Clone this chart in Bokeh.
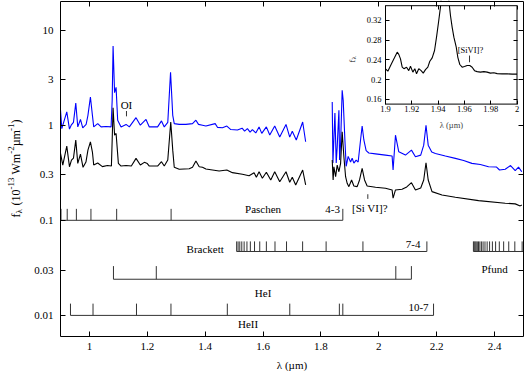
import math
from bokeh.plotting import figure
from bokeh.models import (Range1d, LinearScale, LinearAxis, LogAxis, FixedTicker,
                          CustomJSTickFormatter, Label)
from bokeh.embed import file_html
from bokeh.resources import INLINE

# ---------------- data ----------------
x_ticks = [1.0, 1.2, 1.4, 1.6, 1.8, 2.0, 2.2, 2.4]
y_ticks = [0.01, 0.03, 0.1, 0.3, 1, 3, 10]
X_LIM = (0.9, 2.5)
Y_LIM = (0.006, 20)

# blue spectrum, J/H part
blue_j_lam = [0.900, 0.9045, 0.9217, 0.931, 0.9369, 0.9448, 0.9528, 0.9597, 0.969, 0.9769,
              0.9886, 0.9948, 1.0034, 1.0103, 1.0148, 1.0286, 1.0403, 1.0576, 1.0748, 1.0786,
              1.0817, 1.0869, 1.0921, 1.0976, 1.1093, 1.1266, 1.1379, 1.161, 1.1759, 1.1955,
              1.2069, 1.2355, 1.249, 1.2586, 1.2707, 1.2803, 1.2879, 1.2931, 1.3103, 1.3334,
              1.3562, 1.3679, 1.3769, 1.3907, 1.4024, 1.4345, 1.4424, 1.4597, 1.4748, 1.4886,
              1.5114, 1.5276, 1.5362, 1.5459, 1.5552, 1.5631, 1.5748, 1.5862, 1.5955, 1.6114,
              1.6231, 1.6403, 1.6576, 1.6793, 1.6921, 1.701, 1.7148, 1.7369, 1.7472]
blue_j_f = [1.44, 0.92, 1.38, 0.91, 1.00, 1.07, 1.71, 0.96, 1.15, 0.94,
            1.02, 1.27, 1.98, 1.27, 0.96, 1.04, 0.96, 0.97, 0.96, 1.83,
            6.8, 2.2, 2.5, 1.13, 0.96, 1.02, 0.96, 1.20, 1.00, 1.15,
            0.96, 0.96, 1.11, 0.96, 1.07, 3.6, 1.27, 1.04, 1.02, 1.02,
            1.04, 1.13, 1.02, 1.00, 0.98, 1.04, 0.95, 0.94, 0.98, 0.90,
            0.89, 0.93, 0.865, 0.92, 0.845, 0.90, 0.83, 0.96, 0.82, 0.96,
            0.79, 0.98, 0.75, 1.02, 0.75, 0.865, 0.70, 1.08, 0.67]

# blue spectrum, K part
blue_k_lam = [1.839, 1.8414, 1.8483, 1.8528, 1.8562, 1.8621, 1.8645, 1.8679, 1.8734, 1.8769,
              1.8828, 1.8872, 1.8941, 1.9024, 1.9079, 1.9138, 1.9217, 1.9286, 1.9369, 1.9424,
              1.9483, 1.9562, 1.9655, 1.9886, 2.0231, 2.0459, 2.0493, 2.0576, 2.069, 2.0921,
              2.1128, 2.1266, 2.1448, 2.1552, 2.1631, 2.1707, 2.1828, 2.1955, 2.23, 2.2645,
              2.2931, 2.3217, 2.3507, 2.3793, 2.4069, 2.4172, 2.4369, 2.4552, 2.4714, 2.4828,
              2.4941]
blue_k_f = [1.75, 0.40, 1.34, 0.40, 0.59, 1.44, 0.43, 0.64, 2.33, 1.83,
            0.70, 0.37, 0.47, 0.41, 0.45, 0.40, 0.43, 0.41, 0.70, 0.98,
            0.70, 0.54, 0.51, 0.50, 0.485, 0.474, 0.338, 0.786, 0.525, 0.485,
            0.547, 0.466, 0.485, 0.617, 1.0, 0.617, 0.522, 0.505, 0.474, 0.448,
            0.425, 0.397, 0.386, 0.366, 0.363, 0.338, 0.344, 0.377, 0.334, 0.363,
            0.324]

# black spectrum, J/H part
black_j_lam = [0.900, 0.9079, 0.9217, 0.931, 0.9379, 0.9448, 0.9528, 0.9597, 0.969, 0.9779,
               0.9879, 0.9948, 1.0034, 1.0103, 1.0148, 1.0286, 1.0448, 1.0621, 1.0759, 1.0786,
               1.0817, 1.0869, 1.0921, 1.100, 1.1093, 1.1266, 1.1448, 1.161, 1.1759, 1.1897,
               1.200, 1.2069, 1.2355, 1.249, 1.2586, 1.2707, 1.281, 1.2879, 1.2931, 1.3103,
               1.3448, 1.3562, 1.3679, 1.3793, 1.3907, 1.4024, 1.4252, 1.4483, 1.4748, 1.4941,
               1.5286, 1.5517, 1.569, 1.5769, 1.5862, 1.5976, 1.6114, 1.6266, 1.6403, 1.6576,
               1.6793, 1.6921, 1.701, 1.7128, 1.7369, 1.7472]
black_j_f = [0.505, 0.381, 0.603, 0.366, 0.430, 0.451, 0.697, 0.397, 0.497, 0.361,
             0.41, 0.547, 0.669, 0.522, 0.381, 0.40, 0.367, 0.377, 0.372, 0.697,
             1.53, 0.786, 0.819, 0.397, 0.372, 0.377, 0.372, 0.448, 0.381, 0.407,
             0.395, 0.372, 0.372, 0.413, 0.372, 0.430, 1.083, 0.547, 0.361, 0.344,
             0.349, 0.361, 0.42, 0.366, 0.361, 0.346, 0.338, 0.330, 0.338, 0.317,
             0.305, 0.2946, 0.317, 0.2834, 0.324, 0.2767, 0.320, 0.2655, 0.324, 0.2548,
             0.324, 0.2512, 0.2834, 0.2353, 0.338, 0.2353]

# black spectrum, K part
black_k_lam = [1.839, 1.8421, 1.8448, 1.8507, 1.8562, 1.8621, 1.8679, 1.8734, 1.8793, 1.8852,
               1.8907, 1.8966, 1.9059, 1.9138, 1.9252, 1.9334, 1.9424, 1.9507, 1.9597, 1.9886,
               2.0231, 2.0459, 2.0493, 2.0576, 2.0803, 2.0966, 2.1128, 2.1266, 2.1448, 2.1552,
               2.1631, 2.1707, 2.1838, 2.2183, 2.2645, 2.3448, 2.4369, 2.4714, 2.4886, 2.4941]
black_k_f = [0.430, 0.2655, 0.366, 0.2875, 0.381, 0.324, 0.397, 0.851, 0.466, 0.2875,
             0.2452, 0.2259, 0.2655, 0.2298, 0.2259, 0.2655, 0.352, 0.2655, 0.2298, 0.2227,
             0.2174, 0.2087, 0.1708, 0.2087, 0.2122, 0.2243, 0.2488, 0.2087, 0.219, 0.2655,
             0.403, 0.2655, 0.2002, 0.1849, 0.175, 0.1612, 0.1514, 0.1489, 0.1418, 0.145]

# inset spectrum (1.9 - 2.0 micron, linear flux)
inset_lam = [1.900, 1.9018, 1.9038, 1.9051, 1.9068, 1.9089, 1.9101, 1.9114, 1.9127, 1.914,
             1.916, 1.9177, 1.919, 1.9208, 1.9223, 1.9236, 1.9253, 1.9271, 1.9287, 1.9304,
             1.9322, 1.9337, 1.9355, 1.9373, 1.9388, 1.9405, 1.9418, 1.944, 1.946, 1.9482,
             1.9494, 1.9507, 1.952, 1.9538, 1.955, 1.9565, 1.9583, 1.9601, 1.9621, 1.9641,
             1.9659, 1.9677, 1.9697, 1.9722, 1.9748, 1.9773, 1.9798, 1.9824, 1.9849, 1.9887,
             1.9925, 1.9963, 2.000]
inset_f = [0.2217, 0.217, 0.228, 0.235, 0.244, 0.2555, 0.251, 0.242, 0.225, 0.222,
           0.225, 0.218, 0.227, 0.215, 0.222, 0.2115, 0.222, 0.218, 0.213, 0.220,
           0.225, 0.237, 0.244, 0.259, 0.286, 0.320, 0.347, 0.42, 0.44, 0.36,
           0.330, 0.306, 0.286, 0.2656, 0.245, 0.2305, 0.225, 0.2264, 0.2284, 0.2284,
           0.225, 0.218, 0.216, 0.215, 0.216, 0.215, 0.213, 0.2136, 0.212, 0.2115,
           0.2115, 0.211, 0.211]
INSET_X = (1.9, 2.0)
INSET_Y = (0.15, 0.35)
inset_x_ticks = [1.9, 1.92, 1.94, 1.96, 1.98, 2.0]
inset_y_ticks = [0.16, 0.20, 0.24, 0.28, 0.32]

# line identification markers (wavelengths, micron)
paschen = [0.9017, 0.9232, 0.9549, 1.0052, 1.0941, 1.2822, 1.8756]
brackett = [2.1661, 1.9451, 1.8179, 1.7367, 1.6811, 1.6412, 1.6114, 1.5885, 1.5705,
            1.5561, 1.5443, 1.5346, 1.5265, 1.5196, 1.5137, 1.5087]
pfund = [2.4953, 2.4700, 2.4490, 2.4314, 2.4164, 2.4036, 2.3925, 2.3828, 2.3744,
         2.3669, 2.3603, 2.3545, 2.3492, 2.3445, 2.3403, 2.3364, 2.3330, 2.3298, 2.3269]
hei = [1.0830, 1.2310, 2.0587, 2.1126]
heii = [0.9345, 1.0124, 1.1626, 1.2817, 1.4765, 1.6923, 1.8637, 1.8756, 2.1891]
# marker levels (base, tick top) in flux units
paschen_lvl = (0.100, 0.132)
brackett_lvl = (0.047, 0.060)
hei_lvl = (0.024, 0.033)
heii_lvl = (0.0100, 0.0133)

# ---------------- layout (pixels) ----------------
W, H = 525, 371
BOX = dict(left=60, right=523, top=1, bottom=336)          # main plot box
IBOX = dict(left=385, right=516.5, top=5.2, bottom=103.6)  # inset box
FONT = "Liberation Serif"
FS = "11px"
IFS = "8.5px"


def fit_range(lo, hi, p0, p1, total, log=False):
    """data range of the full canvas so that lo..hi spans pixels p0..p1 (fractions)."""
    f0, f1 = p0 / total, p1 / total
    if log:
        lo, hi = math.log10(lo), math.log10(hi)
    span = (hi - lo) / (f1 - f0)
    start = lo - f0 * span
    if log:
        return Range1d(10 ** start, 10 ** (start + span))
    return Range1d(start, start + span)


p = figure(width=W, height=H,
           x_range=fit_range(*X_LIM, BOX["left"], BOX["right"], W),
           y_range=fit_range(*Y_LIM, H - BOX["bottom"], H - BOX["top"], H, log=True),
           y_axis_type="log", x_axis_location=None, y_axis_location=None,
           output_backend="svg", toolbar_location=None,
           min_border_left=0, min_border_right=0, min_border_top=0, min_border_bottom=0)
p.grid.visible = False
p.outline_line_color = None
p.background_fill_color = "white"
p.border_fill_color = "white"

p.extra_x_ranges = {"ix": fit_range(*INSET_X, IBOX["left"], IBOX["right"], W)}
p.extra_y_ranges = {"iy": fit_range(*INSET_Y, H - IBOX["bottom"], H - IBOX["top"], H)}
p.extra_y_scales = {"iy": LinearScale()}
IR = dict(x_range_name="ix", y_range_name="iy")

num_fmt = CustomJSTickFormatter(code="return String(Math.round(tick*100)/100)")
blank_fmt = CustomJSTickFormatter(code="return ''")


def axis(cls, side, loc, bounds, ticks, labels=True, font_size=FS, tick_len=5, standoff=6, **kw):
    ax = cls(fixed_location=loc, bounds=bounds, **kw)
    ax.ticker = FixedTicker(ticks=ticks)
    ax.major_tick_in = tick_len
    ax.major_tick_out = 0
    ax.minor_tick_line_color = None
    ax.axis_line_color = None
    ax.major_tick_line_color = "black"
    ax.major_tick_line_width = 1
    if labels:
        ax.formatter = num_fmt
        ax.major_label_text_font = FONT
        ax.major_label_text_font_size = font_size
        ax.major_label_text_color = "black"
        ax.major_label_standoff = standoff
    else:
        ax.formatter = blank_fmt
        ax.major_label_text_font_size = "0px"
        ax.major_label_standoff = 0
    p.add_layout(ax, side)
    return ax


# main axes (ticks inside, mirrored)
axis(LinearAxis, "below", Y_LIM[0], X_LIM, x_ticks, standoff=6)
axis(LinearAxis, "above", Y_LIM[1], X_LIM, x_ticks, labels=False)
axis(LogAxis, "left", X_LIM[0], Y_LIM, y_ticks, standoff=7)
axis(LogAxis, "right", X_LIM[1], Y_LIM, y_ticks, labels=False)

# spectra
p.line(blue_j_lam, blue_j_f, line_color="#0000ff", line_width=1.1)
p.line(blue_k_lam, blue_k_f, line_color="#0000ff", line_width=1.1)
p.line(black_j_lam, black_j_f, line_color="black", line_width=1.1)
p.line(black_k_lam, black_k_f, line_color="black", line_width=1.1)

# line identification markers
MC = "#333333"


def series(lams, lvl, extend_to=None):
    base, top = lvl
    p.segment(x0=lams, y0=[base] * len(lams), x1=lams, y1=[top] * len(lams),
              line_color=MC, line_width=1)
    x0 = min(lams) if extend_to != "left" else X_LIM[0]
    x1 = max(lams) if extend_to != "right" else X_LIM[1]
    p.segment(x0=[x0], y0=[base], x1=[x1], y1=[base], line_color=MC, line_width=1)


series(paschen, paschen_lvl, extend_to="left")
series(brackett, brackett_lvl)
series(pfund, brackett_lvl, extend_to="right")
series(hei, hei_lvl)
series(heii, heii_lvl)

# small identification ticks
p.segment(x0=[1.128], y0=[1.24], x1=[1.128], y1=[1.41], line_color=MC, line_width=1)
p.segment(x0=[1.962], y0=[0.168], x1=[1.962], y1=[0.188], line_color=MC, line_width=1)


def lab(x, y, text, align="center", size=FS, **kw):
    p.add_layout(Label(x=x, y=y, text=text, text_font=FONT, text_font_size=size,
                       text_align=align, text_baseline="middle", text_color="black", **kw))


lab(1.60, 0.131, "Paschen")
lab(1.866, 0.131, "4-3", align="right")
lab(1.40, 0.0503, "Brackett")
lab(2.144, 0.0554, "7-4", align="right")
lab(2.40, 0.031, "Pfund")
lab(1.60, 0.0173, "HeI")
lab(1.548, 0.0081, "HeII")
lab(2.172, 0.0122, "10-7", align="right")
lab(1.128, 1.62, "OI")
lab(1.969, 0.135, "[Si VI]?")


# rotated labels built from pieces (screen px: x from left, y from bottom)
def vpieces(pieces, x0, y0):
    yy = y0
    for text, size, dx, adv in pieces:
        p.add_layout(Label(x=x0 + dx, y=yy, x_units="screen", y_units="screen", text=text,
                           angle=math.pi / 2, text_font=FONT, text_font_size=f"{size}px",
                           text_align="left", text_baseline="alphabetic", text_color="black"))
        yy += adv


# main axis titles
vpieces([("f", 12, 0, 4.0), ("λ", 9, 3, 8.0), ("(10", 12, 0, 16.0), ("-13", 9, -5, 15.0),
         ("Wm", 12, 0, 20.7), ("-2", 9, -5, 7.5), ("µm", 12, 0, 15.3), ("-1", 9, -5, 7.5),
         (")", 12, 0, 4.0)], 15, H - 217)
p.add_layout(Label(x=(BOX["left"] + BOX["right"]) / 2, y=H - 364, x_units="screen", y_units="screen",
                   text="λ (µm)", text_font=FONT, text_font_size=FS, text_align="center",
                   text_baseline="middle", text_color="black"))

# ---------------- inset ----------------
p.quad(left=[INSET_X[0]], right=[INSET_X[1]], bottom=[INSET_Y[0]], top=[INSET_Y[1]],
       fill_color="white", line_color=None, **IR)
p.line(inset_lam, inset_f, line_color="black", line_width=1.1, **IR)
p.quad(left=[INSET_X[0]], right=[INSET_X[1]], bottom=[INSET_Y[1]], top=[INSET_Y[1] + 0.2],
       fill_color="white", line_color=None, **IR)
p.quad(left=[INSET_X[0]], right=[INSET_X[1]], bottom=[INSET_Y[0]], top=[INSET_Y[1]],
       fill_color=None, line_color="black", line_width=1, **IR)
p.segment(x0=[1.9639], y0=[0.235], x1=[1.9639], y1=[0.2487], line_color=MC, line_width=1, **IR)
lab(1.9646, 0.259, "[SiVI]?", size=IFS, **IR)

ib = axis(LinearAxis, "below", INSET_Y[0], INSET_X, inset_x_ticks, font_size=IFS, tick_len=4,
          standoff=2, **IR)
ib.axis_label = "λ (µm)"
ib.axis_label_text_font = FONT
ib.axis_label_text_font_size = IFS
ib.axis_label_text_font_style = "normal"
ib.axis_label_standoff = 4
axis(LinearAxis, "above", INSET_Y[1], INSET_X, inset_x_ticks, labels=False, tick_len=4, **IR)
axis(LinearAxis, "left", INSET_X[0], INSET_Y, inset_y_ticks, font_size=IFS, tick_len=4,
     standoff=4, **IR)
axis(LinearAxis, "right", INSET_X[1], INSET_Y, inset_y_ticks, labels=False, tick_len=4, **IR)

vpieces([("f", 8.5, 0, 3.0), ("λ", 6.5, 2, 4.0)], 351, H - 62)

# main plot box, drawn last so nothing covers it
p.quad(left=[X_LIM[0]], right=[X_LIM[1]], bottom=[Y_LIM[0]], top=[Y_LIM[1]],
       fill_color=None, line_color="black", line_width=1)

open("out.html", "w").write(file_html(p, INLINE))
